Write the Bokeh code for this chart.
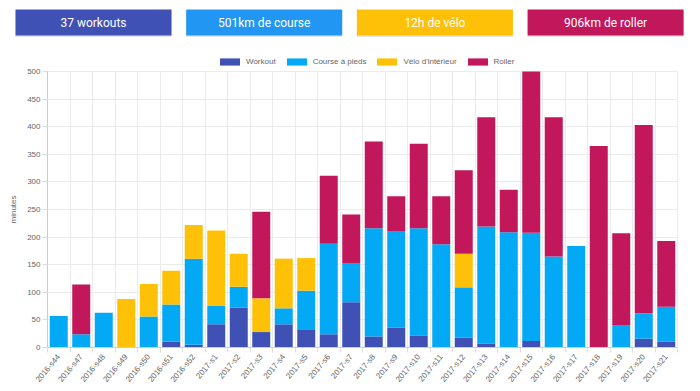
from bokeh.plotting import figure
from bokeh.models import (ColumnDataSource, Range1d, FixedTicker, Legend, LegendItem,
                          BoxAnnotation, LabelSet, Grid)
from bokeh.core.properties import value
from bokeh.embed import file_html
from bokeh.resources import INLINE

# ---------------- data ----------------
weeks = ["2016-s44", "2016-s47", "2016-s48", "2016-s49", "2016-s50", "2016-s51", "2016-s52",
         "2017-s1", "2017-s2", "2017-s3", "2017-s4", "2017-s5", "2017-s6", "2017-s7",
         "2017-s8", "2017-s9", "2017-s10", "2017-s11", "2017-s12", "2017-s13", "2017-s14",
         "2017-s15", "2017-s16", "2017-s17", "2017-s18", "2017-s19", "2017-s20", "2017-s21"]
workout = [0, 0, 0, 0, 0, 11, 5,
           42, 72, 28, 42, 33, 24, 82,
           20, 36, 22, 0, 18, 7, 0,
           12, 0, 0, 0, 0, 16, 11]
course = [57, 24, 63, 0, 56, 67, 156,
          34, 38, 0, 29, 70, 164, 71,
          196, 175, 194, 187, 91, 212, 209,
          196, 165, 184, 0, 40, 46, 63]
velo = [0, 0, 0, 88, 59, 61, 61,
        136, 60, 61, 90, 59, 0, 0,
        0, 0, 0, 0, 61, 0, 0,
        0, 0, 0, 0, 0, 0, 0]
roller = [0, 90, 0, 0, 0, 0, 0,
          0, 0, 157, 0, 0, 123, 88,
          157, 63, 153, 87, 151, 198, 77,
          292, 252, 0, 365, 167, 341, 119]
series_keys = ["workout", "course", "velo", "roller"]
series_names = ["Workout", "Course à pieds", "Vélo d'intérieur", "Roller"]
series_colors = ["#3F51B5", "#03A9F4", "#FFC107", "#C2185B"]
y_ticks = [0, 50, 100, 150, 200, 250, 300, 350, 400, 450, 500]
y_max = 500
y_label = "minutes"
header_labels = ["37 workouts", "501km de course", "12h de vélo", "906km de roller"]
header_colors = ["#3F51B5", "#2196F3", "#FFC107", "#C2185B"]

# ---------------- layout constants (canvas pixels) ----------------
W, H = 692, 388
PL, PR, PT, PB = 47, 677, 71, 347      # plot area edges
FONT = "Liberation Sans"
GREY = "#666666"
GRID = "#ebebeb"
AXIS = "#cccccc"

n = len(weeks)
px_per_x = (PR - PL) / n
px_per_y = (PB - PT) / y_max
x_start = -0.5 - PL / px_per_x
x_end = n - 0.5 + (W - PR) / px_per_x
y_start = -(H - PB) / px_per_y
y_end = y_max + PT / px_per_y

src = ColumnDataSource(dict(x=list(range(n)), week=weeks,
                            workout=workout, course=course, velo=velo, roller=roller))

p = figure(width=W, height=H, x_range=Range1d(x_start, x_end),
           y_range=Range1d(y_start, y_end),
           toolbar_location=None, output_backend="svg", min_border=0)
p.outline_line_color = None

renderers = p.vbar_stack(series_keys, x="x", width=0.8,
                         fill_color=series_colors, line_color=None, source=src)

# ---------------- axes (fixed at the plot-area edges) ----------------
xa, ya = p.xaxis[0], p.yaxis[0]
xa.fixed_location = 0
xa.bounds = (-0.5, n - 0.5)
xa.ticker = FixedTicker(ticks=list(range(n)),
                        minor_ticks=[i - 0.5 for i in range(n + 1)])
xa.major_label_overrides = {i: w for i, w in enumerate(weeks)}
xa.major_tick_out = 0
xa.major_tick_in = 0
xa.minor_tick_out = 5
xa.minor_tick_in = 0
xa.minor_tick_line_color = "#dddddd"
xa.major_label_orientation = 0.87
xa.major_label_standoff = 3

ya.fixed_location = -0.5
ya.bounds = (0, y_max)
ya.ticker = FixedTicker(ticks=y_ticks)
ya.axis_label = y_label
ya.major_tick_out = 5
ya.major_tick_in = 0
ya.minor_tick_line_color = None
ya.major_tick_line_color = "#dddddd"
ya.major_label_standoff = 2
ya.axis_label_standoff = 6

for ax in (xa, ya):
    ax.axis_line_color = AXIS
    ax.major_label_text_font = FONT
    ax.major_label_text_font_size = "8px"
    ax.major_label_text_color = GREY
    ax.axis_label_text_font = FONT
    ax.axis_label_text_font_size = "8px"
    ax.axis_label_text_font_style = "normal"
    ax.axis_label_text_color = GREY

# ---------------- grid ----------------
x_bounds = [i - 0.5 for i in range(n + 1)]
if "cross_bounds" in Grid.properties():
    p.xgrid.ticker = FixedTicker(ticks=x_bounds)
    p.xgrid.cross_bounds = (0, y_max)
    p.xgrid.grid_line_color = GRID
    p.ygrid.ticker = FixedTicker(ticks=y_ticks)
    p.ygrid.cross_bounds = (-0.5, n - 0.5)
    p.ygrid.grid_line_color = GRID
else:
    p.grid.visible = False
    p.segment(x0=x_bounds, x1=x_bounds, y0=0, y1=y_max, line_color=GRID, level="underlay")
    p.segment(x0=-0.5, x1=n - 0.5, y0=y_ticks, y1=y_ticks, line_color=GRID, level="underlay")

# ---------------- legend ----------------
legend = Legend(items=[LegendItem(label=nm, renderers=[r])
                       for nm, r in zip(series_names, renderers)],
                orientation="horizontal", location=(217, H - 66),
                background_fill_alpha=0, border_line_color=None,
                padding=0, margin=0, spacing=8, label_standoff=4,
                glyph_width=25, glyph_height=9, label_height=9,
                label_text_font=FONT, label_text_font_size="8px",
                label_text_color=GREY, label_text_baseline="middle")
p.add_layout(legend, "center")

# ---------------- header cards ----------------
box_w, step, x0, box_top, box_bot = 156, 170.7, 15, 9, 35
lefts = [x0 + i * step for i in range(len(header_labels))]
for l, c in zip(lefts, header_colors):
    p.add_layout(BoxAnnotation(left=l, right=l + box_w, top=H - box_top - 1,
                               bottom=H - box_bot - 1.5,
                               left_units="screen", right_units="screen",
                               top_units="screen", bottom_units="screen",
                               fill_color="#000000", fill_alpha=0.10, line_color=None))
    p.add_layout(BoxAnnotation(left=l, right=l + box_w, top=H - box_top,
                               bottom=H - box_bot,
                               left_units="screen", right_units="screen",
                               top_units="screen", bottom_units="screen",
                               fill_color=c, fill_alpha=1.0, line_color=None))

hsrc = ColumnDataSource(dict(
    sx=[l + box_w / 2 for l in lefts],
    sy=[H - (box_top + box_bot) / 2] * len(lefts),
    label=header_labels,
))
p.add_layout(LabelSet(x="sx", y="sy", x_units="screen", y_units="screen", text="label",
                      source=hsrc, text_align="center", text_baseline="middle",
                      text_color="white", text_font=value("Roboto"),
                      text_font_size="12px"))

open("out.html", "w").write(file_html(p, INLINE))
